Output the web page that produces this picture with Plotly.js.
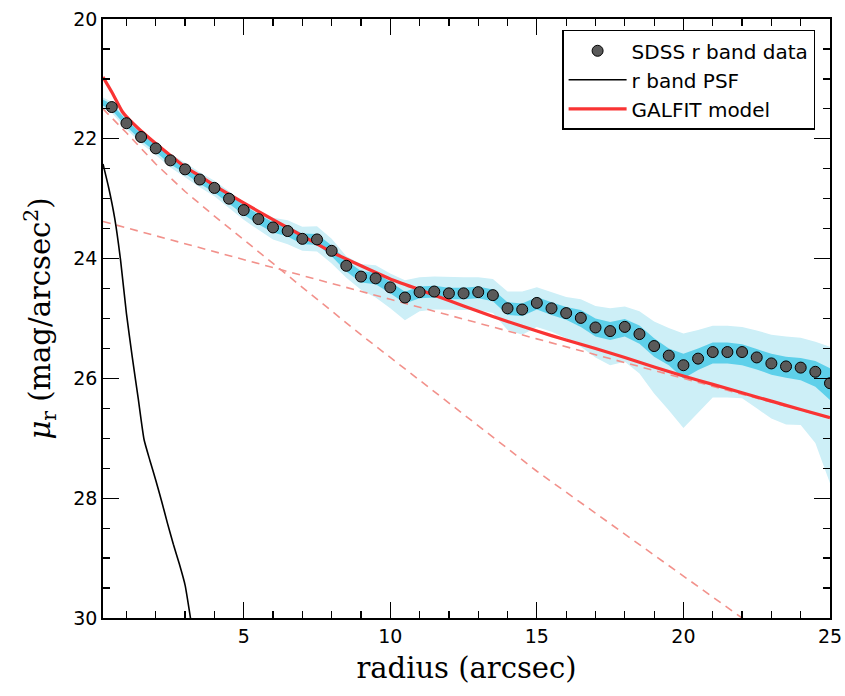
<!DOCTYPE html>
<html>
<head>
<meta charset="utf-8">
<script src="https://cdn.plot.ly/plotly-3.0.1.min.js"></script>
<style>html,body{margin:0;padding:0;background:#fff;}#plot{width:845px;height:696px;}</style>
</head>
<body>
<div id="plot"></div>
<script>
// ---- data ----
const radius = [0.5,1.0,1.5,2.0,2.5,3.0,3.5,4.0,4.5,5.0,5.5,6.0,6.5,7.0,7.5,8.0,8.5,9.0,9.5,10.0,
  10.5,11.0,11.5,12.0,12.5,13.0,13.5,14.0,14.5,15.0,15.5,16.0,16.5,17.0,17.5,18.0,18.5,19.0,19.5,20.0,
  20.5,21.0,21.5,22.0,22.5,23.0,23.5,24.0,24.5,25.0];
const muData = [21.47,21.74,21.97,22.16,22.36,22.51,22.68,22.82,23.00,23.19,23.34,23.48,23.54,23.67,23.68,23.87,24.12,24.30,24.33,24.48,
  24.65,24.56,24.55,24.58,24.58,24.56,24.61,24.83,24.85,24.74,24.83,24.91,24.99,25.15,25.21,25.14,25.26,25.46,25.62,25.78,
  25.67,25.56,25.56,25.56,25.65,25.75,25.80,25.82,25.89,26.08];

// band profile starts at the axis edge
const bandRadius = [0.2].concat(radius);
const bandMu = [21.40].concat(muData);
const darkUp = [0.05,0.05,0.055,0.06,0.06,0.065,0.07,0.07,0.075,0.075,0.08,0.08,0.085,0.085,0.09,0.09,0.09,0.09,0.095,0.095,0.095,
  0.095,0.095,0.095,0.095,0.095,0.095,0.095,0.10,0.10,0.10,0.10,0.10,0.13,0.15,0.15,0.13,0.145,0.13,0.12,0.19,
  0.17,0.16,0.16,0.13,0.14,0.16,0.16,0.16,0.18,0.25];
const darkDn = [0.05,0.05,0.055,0.06,0.06,0.065,0.07,0.07,0.075,0.08,0.08,0.085,0.085,0.09,0.09,0.09,0.09,0.095,0.10,0.10,0.10,
  0.10,0.10,0.10,0.10,0.10,0.10,0.10,0.11,0.11,0.11,0.11,0.11,0.15,0.15,0.15,0.16,0.16,0.18,0.16,0.22,
  0.19,0.19,0.19,0.22,0.20,0.19,0.19,0.21,0.25,0.28];
const lightUp = [0.09,0.09,0.09,0.10,0.10,0.11,0.11,0.12,0.12,0.13,0.14,0.15,0.16,0.18,0.20,0.22,0.20,0.16,0.21,0.22,0.23,
  0.29,0.25,0.25,0.27,0.27,0.25,0.27,0.28,0.30,0.26,0.27,0.27,0.31,0.36,0.38,0.34,0.38,0.41,0.46,0.53,
  0.48,0.44,0.44,0.42,0.45,0.48,0.50,0.50,0.50,0.61];
const lightDn = [0.10,0.10,0.10,0.11,0.11,0.12,0.13,0.13,0.14,0.15,0.16,0.18,0.20,0.22,0.20,0.20,0.21,0.20,0.22,0.32,0.35,
  0.38,0.32,0.30,0.28,0.28,0.30,0.30,0.36,0.42,0.40,0.39,0.42,0.48,0.50,0.57,0.58,0.66,0.79,0.91,1.05,
  0.91,0.76,0.76,0.77,0.85,0.92,0.97,0.96,1.19,1.67];

const psfRadius = [0.2,0.4,0.6,0.8,1.0,1.2,1.4,1.6,1.8,2.0,2.2,2.4,2.6,2.8,3.0,3.2];
const psfMu = [22.42,22.83,23.33,24.03,24.92,25.65,26.33,27.02,27.37,27.70,28.05,28.42,28.77,29.09,29.45,30.05];

const modelRadius = [0.2,0.5,0.85,1,1.5,2,2.5,3,3.5,4,5,6,7,8,9,10,11,12,13,14,15,16,17,18,19,20,21,22,23,24,25];
const modelMu = [20.97,21.22,21.54,21.63,21.87,22.08,22.28,22.47,22.62,22.78,23.07,23.35,23.62,23.89,24.12,24.34,24.52,24.70,24.88,25.05,
  25.21,25.36,25.50,25.65,25.81,25.96,26.10,26.24,26.38,26.52,26.655];

const bulgeRadius = [0.2,1,2,3,4,5,6,7,8,9,10,11,12,13,14,15,16,17,18,19,20,21,22,23];
const bulgeMu = [21.50,21.90,22.42,22.88,23.29,23.68,24.08,24.48,24.88,25.27,25.65,26.03,26.41,26.79,27.17,27.55,27.90,28.25,28.60,28.95,29.30,29.65,30.00,30.35];

const diskRadius = [0.2,5,10,15,20,25];
const diskMu = [23.38,24.02,24.68,25.34,26.00,26.66];

const xTicks = [5,10,15,20,25];
const yTicks = [20,22,24,26,28,30];

// ---- build ----
const up = (c, o) => c.map((v,i)=>v - o[i]);
const dn = (c, o) => c.map((v,i)=>v + o[i]);

const lightC = '#cdeff7';
const darkC = '#5ed0ea';
const traces = [
  {x: bandRadius, y: up(bandMu, lightUp), mode:'lines', line:{width:0, color:lightC}, showlegend:false, hoverinfo:'skip'},
  {x: bandRadius, y: dn(bandMu, lightDn), mode:'lines', line:{width:0, color:lightC}, fill:'tonexty', fillcolor:lightC, showlegend:false, hoverinfo:'skip'},
  {x: bandRadius, y: up(bandMu, darkUp), mode:'lines', line:{width:0, color:darkC}, showlegend:false, hoverinfo:'skip'},
  {x: bandRadius, y: dn(bandMu, darkDn), mode:'lines', line:{width:0, color:darkC}, fill:'tonexty', fillcolor:darkC, showlegend:false, hoverinfo:'skip'},
  {x: diskRadius, y: diskMu, mode:'lines', line:{color:'#f2918b', width:1.6, dash:'8px,6px'}, showlegend:false},
  {x: bulgeRadius, y: bulgeMu, mode:'lines', line:{color:'#f2918b', width:1.6, dash:'8px,6px'}, showlegend:false},
  {x: psfRadius, y: psfMu, mode:'lines', name:'r band PSF', line:{color:'#000', width:1.6, shape:'spline', smoothing:0.5}, legendrank:2},
  {x: modelRadius, y: modelMu, mode:'lines', name:'GALFIT model', line:{color:'#f93434', width:3.2, shape:'spline', smoothing:0.4}, legendrank:3},
  {x: radius, y: muData, mode:'markers', name:'SDSS r band data', marker:{color:'#5a5a5a', size:11, line:{color:'#000', width:1}}, legendrank:1}
];

const axisCommon = {
  showline:true, linecolor:'#000', linewidth:1.8, mirror:'ticks',
  ticks:'inside', ticklen:16, tickwidth:1.2, tickcolor:'#000',
  showgrid:false, zeroline:false,
  tickfont:{family:'DejaVu Sans', size:19, color:'#000'}
};

const layout = {
  width:845, height:696,
  margin:{l:103, r:15, t:19, b:78},
  paper_bgcolor:'#fff', plot_bgcolor:'#fff',
  showlegend:true,
  legend:{x:0.6315, y:0.982, xanchor:'left', yanchor:'top', bordercolor:'#000', borderwidth:1.5, bgcolor:'#fff',
    traceorder:'normal', itemwidth:58,
    font:{family:'DejaVu Sans', size:20, color:'#000'}},
  xaxis: Object.assign({}, axisCommon, {
    range:[0.2, 25], tickvals:xTicks, ticktext:xTicks.map(String),
    minor:{ticks:'inside', ticklen:7, tickwidth:1.2, tickcolor:'#000', dtick:1, tick0:0},
    title:{text:'radius (arcsec)', font:{family:'DejaVu Serif', size:29, color:'#000'}, standoff:12}
  }),
  yaxis: Object.assign({}, axisCommon, {
    range:[30, 20], tickvals:yTicks, ticktext:yTicks.map(String),
    minor:{ticks:'inside', ticklen:7, tickwidth:1.2, tickcolor:'#000', dtick:0.5, tick0:0},
    title:{text:'<i>μ</i><sub>r</sub> (mag/arcsec<sup>2</sup>)', font:{family:'DejaVu Serif', size:29, color:'#000'}, standoff:14}
  })
};

Plotly.newPlot('plot', traces, layout, {displayModeBar:false, staticPlot:true});
</script>
</body>
</html>
